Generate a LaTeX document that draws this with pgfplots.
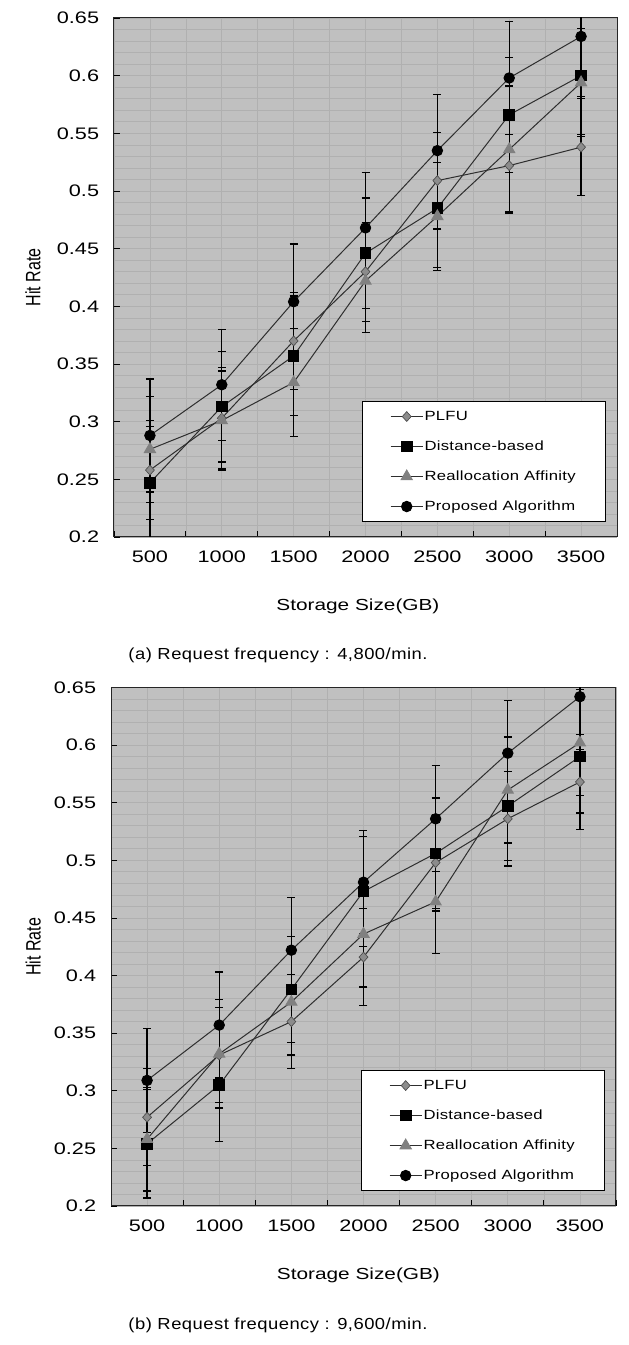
\documentclass[border=0pt]{standalone}
\usepackage{pgfplots}
\pgfplotsset{compat=1.18}
\usepackage{pgfplotstable}
\usepackage{fontspec}
\setmainfont{Liberation Sans}
\newfontfamily\wide[FakeStretch=1.3]{Liberation Sans}
\newfontfamily\capfont[FakeStretch=1.15,LetterSpace=3]{Liberation Sans}
\newfontfamily\wsp[FakeStretch=1.25,LetterSpace=2]{Liberation Sans}
\newcommand\hs[1]{\scalebox{1.3}[1]{#1}}
\definecolor{bg}{HTML}{C0C0C0}
\definecolor{gridc}{HTML}{B0B0B0}
\definecolor{dia}{HTML}{8C8C8C}
\definecolor{tri}{HTML}{808080}
\definecolor{ln}{HTML}{2E2E2E}

\pgfplotstableread{
x plfu plfuE dist distE real realE prop propE
0 0.258 0.043 0.247 0.049 0.276 0.046 0.288 0.049
1 0.303 0.044 0.313 0.048 0.301 0.043 0.332 0.048
2 0.370 0.042 0.357 0.052 0.334 0.047 0.404 0.050
3 0.430 0.043 0.446 0.048 0.422 0.045 0.468 0.048
4 0.509 0.042 0.485 0.051 0.478 0.047 0.535 0.049
5 0.522 0.040 0.566 0.050 0.536 0.055 0.598 0.049
6 0.538 0.042 0.600 0.051 0.594 0.047 0.634 0.052
}\tabA

\pgfplotstableread{
x plfu plfuE dist distE real realE prop propE
0 0.277 0.042 0.254 0.047 0.258 0.045 0.309 0.045
1 0.331 0.041 0.305 0.049 0.332 0.047 0.357 0.046
2 0.360 0.041 0.388 0.046 0.377 0.046 0.422 0.046
3 0.416 0.042 0.473 0.048 0.436 0.046 0.481 0.045
4 0.498 0.042 0.506 0.048 0.464 0.045 0.536 0.046
5 0.536 0.041 0.547 0.047 0.561 0.046 0.593 0.046
6 0.568 0.041 0.590 0.049 0.602 0.046 0.642 0.046
}\tabB

\pgfplotsset{
  hit/.style={
    scale only axis,
    xmin=-0.5, xmax=6.5, ymin=0.2, ymax=0.65,
    xtick={0,...,6},
    xticklabels={\hs{500},\hs{1000},\hs{1500},\hs{2000},\hs{2500},\hs{3000},\hs{3500}},
    minor xtick={-0.5,0.5,1.5,2.5,3.5,4.5,5.5,6.5},
    ytick={0.2,0.25,0.3,0.35,0.4,0.45,0.5,0.55,0.6,0.65},
    yticklabels={\hs{0.2},\hs{0.25},\hs{0.3},\hs{0.35},\hs{0.4},\hs{0.45},\hs{0.5},\hs{0.55},\hs{0.6},\hs{0.65}},
    minor y tick num=4,
    tick pos=left, tick align=inside,
    major tick length=4.5pt, minor tick length=4.5pt,
    major x tick style={draw=none},
    minor y tick style={draw=none},
    tick style={black, line width=0.6pt},
    xmajorgrids, xminorgrids, ymajorgrids, yminorgrids,
    major grid style={gridc, line width=0.5pt},
    minor grid style={gridc, line width=0.5pt},
    axis background/.style={fill=bg},
    axis line style={black!85, line width=0.75pt},
    tick label style={font=\fontsize{12.5}{14}\selectfont},
    yticklabel style={inner sep=0pt, xshift=-11pt},
    xticklabel style={inner sep=0pt, yshift=-10pt},
    xlabel={Storage Size(GB)},
    xlabel style={font=\wide\fontsize{12}{14}\selectfont, anchor=center},
    ylabel={\scalebox{1}[1.3]{Hit Rate}},
    ylabel style={font=\fontsize{12}{14}\selectfont, anchor=center},
    legend cell align=left,
    legend style={at={(axis description cs:0.977,0.029)}, anchor=south east,
      fill=white, draw=black, line width=0.6pt,
      inner xsep=21pt, inner ysep=5.5pt, row sep=11pt,
      nodes={inner sep=1pt, text height=7.5pt, text depth=2pt},
      font=\wsp\fontsize{10}{12}\selectfont},
    legend image code/.code={\draw[mark repeat=2,mark phase=2,##1]
      plot coordinates {(0pt,0pt) (12pt,0pt) (24pt,0pt)};},
    error bars/y dir=both, error bars/y explicit,
    error bars/error bar style={black, line width=0.9pt},
    error bars/error mark options={black, line width=0.9pt, mark size=3pt, rotate=90},
  },
  splfu/.style={ln, line width=0.75pt, mark=diamond*, mark size=3.7pt,
    mark options={fill=dia, draw=black!70, line width=0.5pt, xscale=1.2}},
  sdist/.style={ln, line width=0.75pt, mark=square*, mark size=4pt,
    mark options={fill=black, draw=black}},
  sreal/.style={ln, line width=0.75pt, mark=triangle*, mark size=4.8pt,
    mark options={fill=tri, draw=tri}},
  sprop/.style={ln, line width=0.75pt, mark=*, mark size=3.9pt,
    mark options={fill=black, draw=black}},
}

\begin{document}
\begin{tikzpicture}
\useasboundingbox (0,0) rectangle (471pt,1008.75pt);

\begin{axis}[hit, at={(85.5pt,606pt)}, anchor=south west,
  width=377.25pt, height=389.25pt,
  xlabel style={at={(axis description cs:0.485,-0.133)}},
  ylabel style={at={(axis description cs:-0.161,0.5)}}]
\addplot[splfu] table[x=x, y=plfu, y error=plfuE] {\tabA};
\addlegendentry{PLFU}
\addplot[sdist] table[x=x, y=dist, y error=distE] {\tabA};
\addlegendentry{Distance-based}
\addplot[sreal] table[x=x, y=real, y error=realE] {\tabA};
\addlegendentry{Reallocation Affinity}
\addplot[sprop] table[x=x, y=prop, y error=propE] {\tabA};
\addlegendentry{Proposed Algorithm}
\end{axis}

\node[font=\capfont\fontsize{12}{14}\selectfont, anchor=center] at (208.5pt,517.5pt)
  {(a) Request frequency : 4,800/min.};

\begin{axis}[hit, at={(83.25pt,104.25pt)}, anchor=south west,
  width=378.75pt, height=388.9pt,
  xlabel style={at={(axis description cs:0.49,-0.133)}},
  ylabel style={at={(axis description cs:-0.154,0.5)}}]
\addplot[splfu] table[x=x, y=plfu, y error=plfuE] {\tabB};
\addlegendentry{PLFU}
\addplot[sdist] table[x=x, y=dist, y error=distE] {\tabB};
\addlegendentry{Distance-based}
\addplot[sreal] table[x=x, y=real, y error=realE] {\tabB};
\addlegendentry{Reallocation Affinity}
\addplot[sprop] table[x=x, y=prop, y error=propE] {\tabB};
\addlegendentry{Proposed Algorithm}
\end{axis}

\node[font=\capfont\fontsize{12}{14}\selectfont, anchor=center] at (208.5pt,15pt)
  {(b) Request frequency : 9,600/min.};
\end{tikzpicture}
\end{document}
